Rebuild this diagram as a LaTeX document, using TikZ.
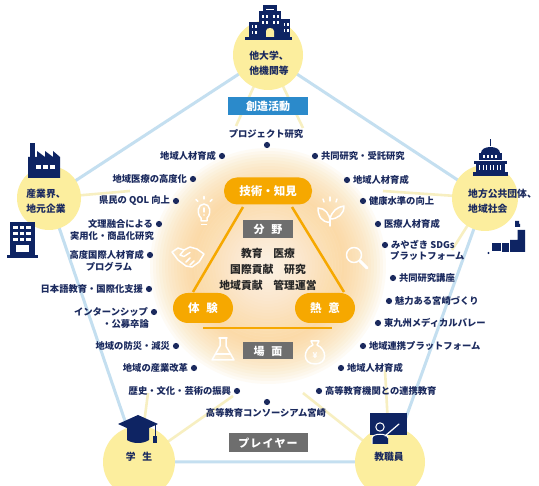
\documentclass[tikz,border=0pt]{standalone}
\usepackage{fontspec}
\setmainfont{Noto Sans CJK JP}
\usetikzlibrary{fadings}

\definecolor{navy}{HTML}{1B2A5E}
\definecolor{iconnavy}{HTML}{0E2463}
\definecolor{pentline}{HTML}{C4DFF0}
\definecolor{bgblue}{HTML}{E2EEF8}
\definecolor{glowc}{HTML}{FBCF86}
\definecolor{orng}{HTML}{F6A800}
\definecolor{grybox}{HTML}{6E6E6E}
\definecolor{bluebox}{HTML}{2B8ACB}
\definecolor{circy}{HTML}{FCEE9E}
\definecolor{spoke}{HTML}{F5E9A8}

\pgfdeclareradialshading{softdiskshade}{\pgfpointorigin}{color(0bp)=(pgftransparent!0); color(24bp)=(pgftransparent!0); color(50bp)=(pgftransparent!100)}
\pgfdeclarefading{softdisk}{\pgfuseshading{softdiskshade}}

\begin{document}
\begin{tikzpicture}[x=1pt,y=-1pt,
  lbl/.style={font=\bfseries\fontsize{9.3}{11}\selectfont, text=navy, inner sep=0pt},
  dotn/.style={circle, fill=navy, minimum size=6.2pt, inner sep=0pt},
  party/.style={circle, fill=circy, minimum size=#1, inner sep=0pt},
  ptext/.style={font=\bfseries\fontsize{9.8}{15}\selectfont, text=navy, inner sep=0pt},
  pill/.style={fill=orng, rounded corners=13pt, text=white, inner sep=0pt,
    font=\bfseries\fontsize{11.5}{12}\selectfont},
  gbox/.style={fill=grybox, text=white, inner sep=0pt, font=\bfseries\fontsize{11}{12}\selectfont},
  bbox/.style={fill=bluebox, text=white, inner sep=0pt, font=\bfseries\fontsize{11}{12}\selectfont},
  spokeline/.style={spoke, line width=2.6pt, opacity=0.7},
  gicon/.style={white, line width=1.5pt, line cap=round, line join=round},
  icon/.style={fill=iconnavy}]

\useasboundingbox (0,0) rectangle (539,486);
\fill[white] (0,0) rectangle (539,486);

% corners of the pentagon = centres of the five player circles
\coordinate (pT) at (268,55);
\coordinate (pL) at (49,198);
\coordinate (pR) at (485,198);
\coordinate (pBL) at (139,462);
\coordinate (pBR) at (390,462);
\coordinate (mid) at (268,266);

% soft backdrop
\fill[bgblue] (pT) -- (pR) -- (pBR) -- (pBL) -- (pL) -- cycle;
\fill[white, path fading=softdisk] (268,262) circle (235);
% warm ring of light, built from stacked translucent discs
\foreach \r in {118,115,...,55} \fill[glowc, fill opacity=0.075] (mid) circle (\r);
\foreach \r in {74,71,...,3} \fill[white, fill opacity=0.06] (mid) circle (\r);

% pale spokes leaving the circles
\coordinate (sT1) at (236,126);
\coordinate (sT2) at (303,128);
\coordinate (sL1) at (130,191);
\coordinate (sR1) at (383,191);
\coordinate (sR2) at (452,250);
\coordinate (sBL1) at (148,393);
\coordinate (sBL2) at (233,396);
\coordinate (sBR1) at (385,370);
\coordinate (sBR2) at (303,393);
\draw[spokeline] (pT) -- (sT1);
\draw[spokeline] (pT) -- (sT2);
\draw[spokeline] (pL) -- (sL1);
\draw[spokeline] (pR) -- (sR1);
\draw[spokeline] (pR) -- (sR2);
\draw[spokeline] (pBL) -- (sBL1);
\draw[spokeline] (pBL) -- (sBL2);
\draw[spokeline] (pBR) -- (sBR1);
\draw[spokeline] (pBR) -- (sBR2);

% pentagon outline
\draw[pentline, line width=3pt, line join=round] (pT) -- (pR) -- (pBR) -- (pBL) -- (pL) -- cycle;

% player circles
\node[party=70pt] (cT) at (pT) {};
\node[party=64pt] (cL) at (pL) {};
\node[party=66pt] (cR) at (pR) {};
\node[party=72pt] (cBL) at (pBL) {};
\node[party=70pt] (cBR) at (pBR) {};

\node[ptext, align=left] (tT) at (269,63) {他大学、\\他機関等};
\node[ptext, align=left] (tL) at (46,201) {産業界、\\地元企業};
\node[ptext, align=left, anchor=west] (tR) at (468,201.5) {地方公共団体、\\地域社会};
\node[ptext] (tBL) at (139,457) {学\hspace{0.7em}生};
\node[ptext] (tBR) at (389,457) {教職員};

% university building
\fill[icon] (245,37) rectangle (292,40);
\fill[icon] (249,22) rectangle (259,37);
\fill[icon] (259,11) rectangle (281,37);
\fill[icon] (263,5) rectangle (277,11);
\fill[icon] (281,19) rectangle (290,37);
\foreach \wx in {251.5,255} \foreach \wy in {25,31} \fill[white] (\wx,\wy) rectangle ++(1.8,3.5);
\foreach \wx in {262,266,273,277} \foreach \wy in {15,21} \fill[white] (\wx,\wy) rectangle ++(1.8,3.5);
\foreach \wx in {283.5,287} \foreach \wy in {23,29} \fill[white] (\wx,\wy) rectangle ++(1.6,3.5);
\fill[white] (266,9) rectangle (274,10);
\fill[circy] (266,37) -- (266,31) .. controls (266,27) and (274,27) .. (274,31) -- (274,37) -- cycle;

% factory
\fill[icon] (30,143) rectangle (35,158);
\fill[icon] (28,178) -- (28,157) -- (37,157) -- (37,151) -- (45,157) -- (45,151) -- (53,157) -- (53,151) -- (60,157) -- (60,178) -- cycle;
\foreach \wx in {36,43,50} \fill[white] (\wx,165) rectangle ++(4.5,4);

% office building
\fill[icon] (10,222) rectangle (35,255);
\fill[icon] (7,255) rectangle (38,258);
\foreach \wx in {13,19.5,26} \foreach \wy in {226,232,238} \fill[white] (\wx,\wy) rectangle ++(4.5,3.5);
\fill[white] (16,245) rectangle (29,252);

% assembly hall
\fill[icon] (489.7,139) rectangle (491.3,146);
\fill[icon] (481,153) .. controls (481,145) and (500,145) .. (500,153) -- cycle;
\fill[icon] (479,153) rectangle (502,160);
\foreach \wx in {483,487,491,495} \fill[white] (\wx,155) rectangle ++(1.5,3.5);
\fill[icon] (474,161) rectangle (507,164);
\fill[icon] (476,164) rectangle (505,172);
\foreach \wx in {479,482.5,486,489.5,493,496.5,500} \fill[white] (\wx,165.5) rectangle ++(1.4,5);
\fill[icon] (473,172) rectangle (508,176);

% map of Japan
\fill[icon] (515,221) -- (519,221) -- (519,224) -- (520,224) -- (520,227) -- (515,227) -- cycle;
\fill[icon] (517.5,230) -- (525,230) -- (525,252) -- (510,252) -- (510,240) -- (517.5,240) -- cycle;
\fill[icon] (502,243) rectangle (509,252);
\fill[icon] (492,243) rectangle (501,251);
\fill[icon] (488.5,253) circle (1.1);

% mortarboard
\fill[icon] (127,428) -- (149,428) -- (149,440) .. controls (143,444) and (133,444) .. (127,440) -- cycle;
\fill[icon] (118,424) -- (138,415) -- (158,424) -- (138,433) -- cycle;
\draw[iconnavy, line width=1pt] (155,425) -- (155,437);
\fill[icon] (153.3,436) rectangle (156.7,443);

% teacher at the board
\fill[icon] (370,413) rectangle (407,435);
\fill[icon] (372,444) -- (372,438) .. controls (372,433) and (388,433) .. (388,438) -- (388,444) -- cycle;
\draw[white, line width=1pt] (372,444) -- (372,438) .. controls (372,433) and (388,433) .. (388,438);
\filldraw[fill=iconnavy, draw=white, line width=1pt] (380,427) circle (4.2);
\draw[white, line width=1.2pt, line cap=round] (385,436) -- (399,424);

% warm glow icons
\draw[gicon] (201,218) .. controls (196,213) and (198,204) .. (204,204) .. controls (210,204) and (212,213) .. (207,218) -- (207,221) -- (201,221) -- cycle;
\draw[gicon] (201.5,224.5) -- (206.5,224.5);
\draw[gicon] (204,196.5) -- (204,199);
\draw[gicon] (196,199.5) -- (197.8,201.3);
\draw[gicon] (212,199.5) -- (210.2,201.3);
\draw[gicon] (204,208) -- (204,212);
\fill[white] (204,215) circle (0.9);

\draw[gicon] (330,226) -- (330,216);
\draw[gicon] (330,222) .. controls (322,223) and (318,216) .. (318,208) .. controls (325,208) and (330,214) .. (330,222);
\draw[gicon] (330,219) .. controls (332,211) and (337,207) .. (344,206) .. controls (344,214) and (338,219) .. (330,219);
\draw[gicon] (323,199) -- (324,202);
\draw[gicon] (330,197) -- (330,201);
\draw[gicon] (337,199) -- (336,202);

\draw[gicon] (172,252) -- (178,248) -- (184,250) -- (190,247) -- (197,249) -- (204,254) -- (199,262) -- (192,267) -- (186,266) -- (178,260) -- cycle;
\draw[gicon] (184,250) -- (180,255) -- (184,256.5) -- (190,252.5);
\draw[gicon] (186,262) -- (190,258);
\draw[gicon] (190,265) -- (194,261);

\draw[gicon] (354,255) circle (7.5);
\draw[white, line width=3pt, line cap=round] (360,261) -- (367,268);

\draw[gicon] (219,338) -- (227,338);
\draw[gicon] (220,338) -- (220,346) -- (212,360) -- (234,360) -- (226,346) -- (226,338);
\draw[gicon] (215.5,354) -- (230.5,354);

\draw[gicon] (311,341) -- (319,341) -- (317,345) .. controls (327,349) and (328,364) .. (315,364) .. controls (302,364) and (303,349) .. (313,345) -- cycle;
\node[text=white, font=\bfseries\fontsize{8}{8}\selectfont, inner sep=0pt] (yen) at (315,356) {¥};

% triangle of technique, experience and passion
\coordinate (triA) at (243,207);
\coordinate (triB) at (193,292);
\coordinate (triC) at (292,207);
\coordinate (triD) at (344,292);
\coordinate (triE) at (203,328);
\coordinate (triF) at (332,328);
\draw[orng, line width=2.5pt] (triA) -- (triB);
\draw[orng, line width=2.5pt] (triC) -- (triD);
\draw[orng, line width=2.5pt] (triE) -- (triF);

\node[pill, minimum width=88pt, minimum height=27pt] (tech) at (268,191) {技術・知見};
\node[pill, minimum width=60pt, minimum height=30pt, rounded corners=15pt] (exper) at (203,308) {体\hspace{0.6em}験};
\node[pill, minimum width=60pt, minimum height=30pt, rounded corners=15pt] (passion) at (325,308) {熱\hspace{0.6em}意};

\node[gbox, minimum width=50pt, minimum height=18pt] (fld) at (268,229) {分\hspace{0.6em}野};
\node[gbox, minimum width=50pt, minimum height=17pt] (scn) at (268,351) {場\hspace{0.6em}面};
\node[gbox, minimum width=79pt, minimum height=19pt] (ply) at (268,443) {プ\hspace{0.1em}レ\hspace{0.1em}イ\hspace{0.1em}ヤ\hspace{0.1em}ー};
\node[bbox, minimum width=80pt, minimum height=18pt] (act) at (268,106) {創造活動};

\node[font=\bfseries\fontsize{10.8}{16}\selectfont, text=black!85, align=center, inner sep=0pt] (fields) at (268,269) {教育　医療\\国際貢献　研究\\地域貢献　管理運営};

% activities on the left
\node[dotn] (dt) at (267,145) {};
\node[lbl] (lt) at (266,134) {プロジェクト研究};
\node[dotn] (dl1) at (222,156) {};
\node[lbl, anchor=east] (ll1) at ([xshift=-2.5pt]dl1.west) {地域人材育成};
\node[dotn] (dl2) at (193,179) {};
\node[lbl, anchor=east] (ll2) at ([xshift=-2.5pt]dl2.west) {地域医療の高度化};
\node[dotn] (dl3) at (176,201) {};
\node[lbl, anchor=east] (ll3) at ([xshift=-2.5pt]dl3.west) {県民の QOL 向上};
\node[dotn] (dl4) at (159,224) {};
\node[lbl, anchor=east] (ll4) at ([xshift=-2.5pt]dl4.west) {文理融合による};
\node[lbl, anchor=east] (ll4b) at (154,236) {実用化・商品化研究};
\node[dotn] (dl5) at (150,255) {};
\node[lbl, anchor=east] (ll5) at ([xshift=-2.5pt]dl5.west) {高度国際人材育成};
\node[lbl] (ll5b) at (109,267) {プログラム};
\node[dotn] (dl6) at (149,289) {};
\node[lbl, anchor=east] (ll6) at ([xshift=-2.5pt]dl6.west) {日本語教育・国際化支援};
\node[dotn] (dl7) at (154,312) {};
\node[lbl, anchor=east] (ll7) at ([xshift=-2.5pt]dl7.west) {インターンシップ};
\node[lbl, anchor=east] (ll7b) at (149,324) {・公募卒論};
\node[dotn] (dl8) at (176,346) {};
\node[lbl, anchor=east] (ll8) at ([xshift=-2.5pt]dl8.west) {地域の防災・減災};
\node[dotn] (dl9) at (194,368) {};
\node[lbl, anchor=east] (ll9) at ([xshift=-2.5pt]dl9.west) {地域の産業改革};
\node[dotn] (dl10) at (237,391) {};
\node[lbl, anchor=east] (ll10) at ([xshift=-2.5pt]dl10.west) {歴史・文化・芸術の振興};
\node[dotn] (db) at (267,402) {};
\node[lbl] (lb) at (266,413) {高等教育コンソーシアム宮崎};

% activities on the right
\node[dotn] (dr1) at (315,156) {};
\node[lbl, anchor=west] (lr1) at ([xshift=2.5pt]dr1.east) {共同研究・受託研究};
\node[dotn] (dr2) at (347,180) {};
\node[lbl, anchor=west] (lr2) at ([xshift=2.5pt]dr2.east) {地域人材育成};
\node[dotn] (dr3) at (363,201) {};
\node[lbl, anchor=west] (lr3) at ([xshift=2.5pt]dr3.east) {健康水準の向上};
\node[dotn] (dr4) at (378,224) {};
\node[lbl, anchor=west] (lr4) at ([xshift=2.5pt]dr4.east) {医療人材育成};
\node[dotn] (dr5) at (385,245) {};
\node[lbl, anchor=west] (lr5) at ([xshift=2.5pt]dr5.east) {みやざき SDGs};
\node[lbl, anchor=west] (lr5b) at (390,256) {プラットフォーム};
\node[dotn] (dr6) at (393,278) {};
\node[lbl, anchor=west] (lr6) at ([xshift=2.5pt]dr6.east) {共同研究講座};
\node[dotn] (dr7) at (389,301) {};
\node[lbl, anchor=west] (lr7) at ([xshift=2.5pt]dr7.east) {魅力ある宮崎づくり};
\node[dotn] (dr8) at (378,323) {};
\node[lbl, anchor=west] (lr8) at ([xshift=2.5pt]dr8.east) {東九州メディカルバレー};
\node[dotn] (dr9) at (363,346) {};
\node[lbl, anchor=west] (lr9) at ([xshift=2.5pt]dr9.east) {地域連携プラットフォーム};
\node[dotn] (dr10) at (341,368) {};
\node[lbl, anchor=west] (lr10) at ([xshift=2.5pt]dr10.east) {地域人材育成};
\node[dotn] (dr11) at (319,391) {};
\node[lbl, anchor=west] (lr11) at ([xshift=2.5pt]dr11.east) {高等教育機関との連携教育};
\end{tikzpicture}
\end{document}
